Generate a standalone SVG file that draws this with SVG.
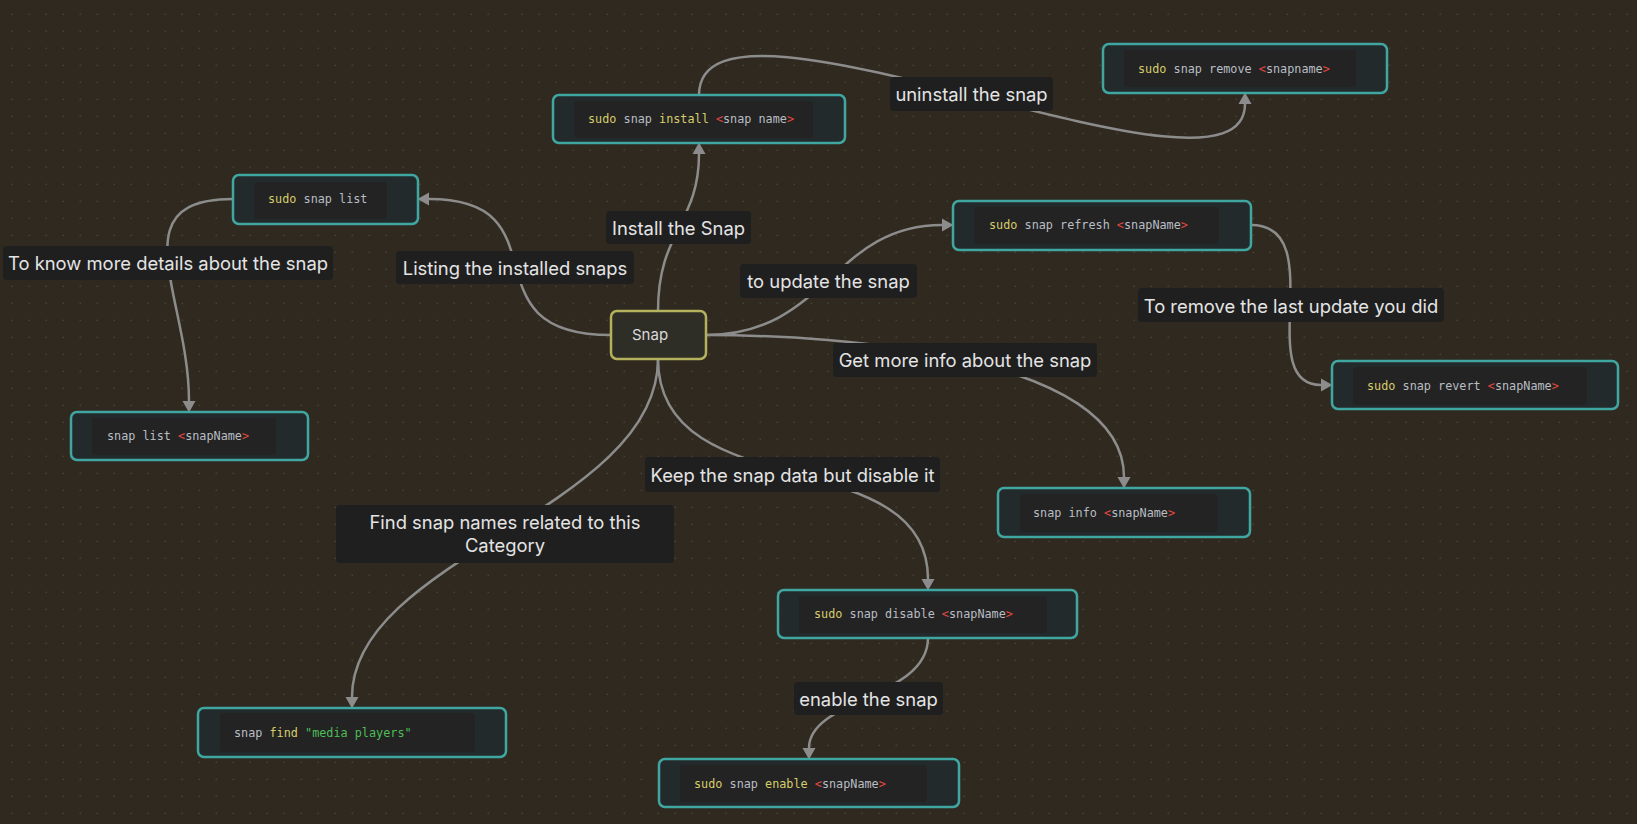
<svg xmlns="http://www.w3.org/2000/svg" width="1637" height="824" viewBox="0 0 1637 824">
<defs>
<pattern id="dots" x="0" y="0" width="17" height="17" patternUnits="userSpaceOnUse">
<circle cx="12.3" cy="14.3" r="0.85" fill="#474233"/>
</pattern>
<marker id="arr" markerUnits="userSpaceOnUse" markerWidth="12" markerHeight="14" refX="0" refY="6.5" orient="auto" viewBox="0 0 12 13">
<path d="M0,0 L11.5,6.5 L0,13 z" fill="#8c8c8c"/>
</marker>
<style>
.bg{fill:#2f291f}
.node rect.o{fill:#232a2b;stroke:#40a6a2;stroke-width:2.5}
.node rect.i{fill:#232323}
.code{font-family:"DejaVu Sans Mono","Liberation Mono",monospace;font-size:11.8px;fill:#b9bec4}
.k{fill:#d7cd6b}
.r{fill:#e2473f}
.s{fill:#4ebd56}
.edges path{fill:none;stroke:#8c8c8c;stroke-width:2.5;marker-end:url(#arr)}
.lbl rect{fill:#1f1f1f}
.lbl text{font-family:Inter,"Noto Sans",sans-serif;font-size:18.4px;fill:#e4e4e4;text-anchor:middle}
</style>
</defs>
<rect class="bg" x="0" y="0" width="1637" height="824"/>
<rect x="0" y="0" width="1637" height="824" fill="url(#dots)"/>

<g class="edges" id="edges">
<path d="M658,311 C658,231 699,223 699,154"/>
<path d="M699,95 C699,-40 1245,228 1245,104"/>
<path d="M611,335 C461,335 568,199 429,199"/>
<path d="M233,199 C118,199 189,297 189,401"/>
<path d="M658,359 C658,509 352,558 352,697"/>
<path d="M658,359 C658,509 928,440 928,579"/>
<path d="M706,335 C826,335 833,225 942,225"/>
<path d="M706,335 C839,335 1124,355 1124,477"/>
<path d="M1251,225 C1331,225 1252,385 1321,385"/>
<path d="M928,638 C928,698 809,699 809,748"/>
</g>

<g class="lbl" id="labels">
<g id="lbl-uninstall"><rect x="890" y="77" width="163" height="34" rx="4"/><text x="971.5" y="101">uninstall the snap</text></g>
<g id="lbl-install"><rect x="606" y="211" width="145" height="33" rx="4"/><text x="678.5" y="235">Install the Snap</text></g>
<g id="lbl-listing"><rect x="396" y="251" width="238" height="33" rx="4"/><text x="515" y="275">Listing the installed snaps</text></g>
<g id="lbl-details"><rect x="3" y="246" width="330" height="34" rx="4"/><text x="168" y="270">To know more details about the snap</text></g>
<g id="lbl-update"><rect x="740" y="264" width="177" height="34" rx="4"/><text x="828.5" y="288">to update the snap</text></g>
<g id="lbl-revert"><rect x="1138" y="288" width="306" height="34" rx="4"/><text x="1291" y="313">To remove the last update you did</text></g>
<g id="lbl-info"><rect x="833" y="343" width="264" height="34" rx="4"/><text x="965" y="367">Get more info about the snap</text></g>
<g id="lbl-disable"><rect x="645" y="457" width="295" height="35" rx="4"/><text x="792.5" y="482">Keep the snap data but disable it</text></g>
<g id="lbl-find"><rect x="336" y="505" width="338" height="58" rx="4"/><text x="505" y="529">Find snap names related to this</text><text x="505" y="552">Category</text></g>
<g id="lbl-enable"><rect x="794" y="682" width="149" height="33" rx="4"/><text x="868.5" y="706">enable the snap</text></g>
</g>

<g id="node-snap">
<rect x="611" y="311" width="95" height="48" rx="6" fill="#2e2e27" stroke="#b4b25c" stroke-width="2.5"/>
<text x="632" y="340" font-family="Inter,'Noto Sans',sans-serif" font-size="15" fill="#dadada">Snap</text>
</g>

<g class="node" id="node-install">
<rect class="o" x="553" y="95" width="292" height="48" rx="6"/>
<rect class="i" x="574" y="101" width="239" height="37" rx="4"/>
<text class="code" x="588" y="123"><tspan class="k">sudo</tspan> snap <tspan class="k">install</tspan> <tspan class="r">&lt;</tspan>snap name<tspan class="r">&gt;</tspan></text>
</g>

<g class="node" id="node-remove">
<rect class="o" x="1103" y="44" width="284" height="49" rx="6"/>
<rect class="i" x="1124" y="50" width="232" height="37" rx="4"/>
<text class="code" x="1138" y="73"><tspan class="k">sudo</tspan> snap remove <tspan class="r">&lt;</tspan>snapname<tspan class="r">&gt;</tspan></text>
</g>

<g class="node" id="node-list">
<rect class="o" x="233" y="175" width="185" height="49" rx="6"/>
<rect class="i" x="254" y="182" width="133" height="37" rx="4"/>
<text class="code" x="268" y="203"><tspan class="k">sudo</tspan> snap list</text>
</g>

<g class="node" id="node-listname">
<rect class="o" x="71" y="412" width="237" height="48" rx="6"/>
<rect class="i" x="92" y="418" width="184" height="37" rx="4"/>
<text class="code" x="107" y="440">snap list <tspan class="r">&lt;</tspan>snapName<tspan class="r">&gt;</tspan></text>
</g>

<g class="node" id="node-refresh">
<rect class="o" x="953" y="201" width="298" height="49" rx="6"/>
<rect class="i" x="974" y="207" width="245" height="37" rx="4"/>
<text class="code" x="989" y="229"><tspan class="k">sudo</tspan> snap refresh <tspan class="r">&lt;</tspan>snapName<tspan class="r">&gt;</tspan></text>
</g>

<g class="node" id="node-revert">
<rect class="o" x="1332" y="361" width="286" height="48" rx="6"/>
<rect class="i" x="1353" y="367" width="234" height="38" rx="4"/>
<text class="code" x="1367" y="390"><tspan class="k">sudo</tspan> snap revert <tspan class="r">&lt;</tspan>snapName<tspan class="r">&gt;</tspan></text>
</g>

<g class="node" id="node-info">
<rect class="o" x="998" y="488" width="252" height="49" rx="6"/>
<rect class="i" x="1020" y="494" width="198" height="38" rx="4"/>
<text class="code" x="1033" y="517">snap info <tspan class="r">&lt;</tspan>snapName<tspan class="r">&gt;</tspan></text>
</g>

<g class="node" id="node-disable">
<rect class="o" x="778" y="590" width="299" height="48" rx="6"/>
<rect class="i" x="799" y="596" width="248" height="37" rx="4"/>
<text class="code" x="814" y="618"><tspan class="k">sudo</tspan> snap disable <tspan class="r">&lt;</tspan>snapName<tspan class="r">&gt;</tspan></text>
</g>

<g class="node" id="node-enable">
<rect class="o" x="659" y="759" width="300" height="48" rx="6"/>
<rect class="i" x="680" y="765" width="247" height="37" rx="4"/>
<text class="code" x="694" y="788"><tspan class="k">sudo</tspan> snap <tspan class="k">enable</tspan> <tspan class="r">&lt;</tspan>snapName<tspan class="r">&gt;</tspan></text>
</g>

<g class="node" id="node-find">
<rect class="o" x="198" y="708" width="308" height="49" rx="6"/>
<rect class="i" x="220" y="713" width="255" height="39" rx="4"/>
<text class="code" x="234" y="737">snap <tspan class="k">find</tspan> <tspan class="s">"media players"</tspan></text>
</g>
</svg>
